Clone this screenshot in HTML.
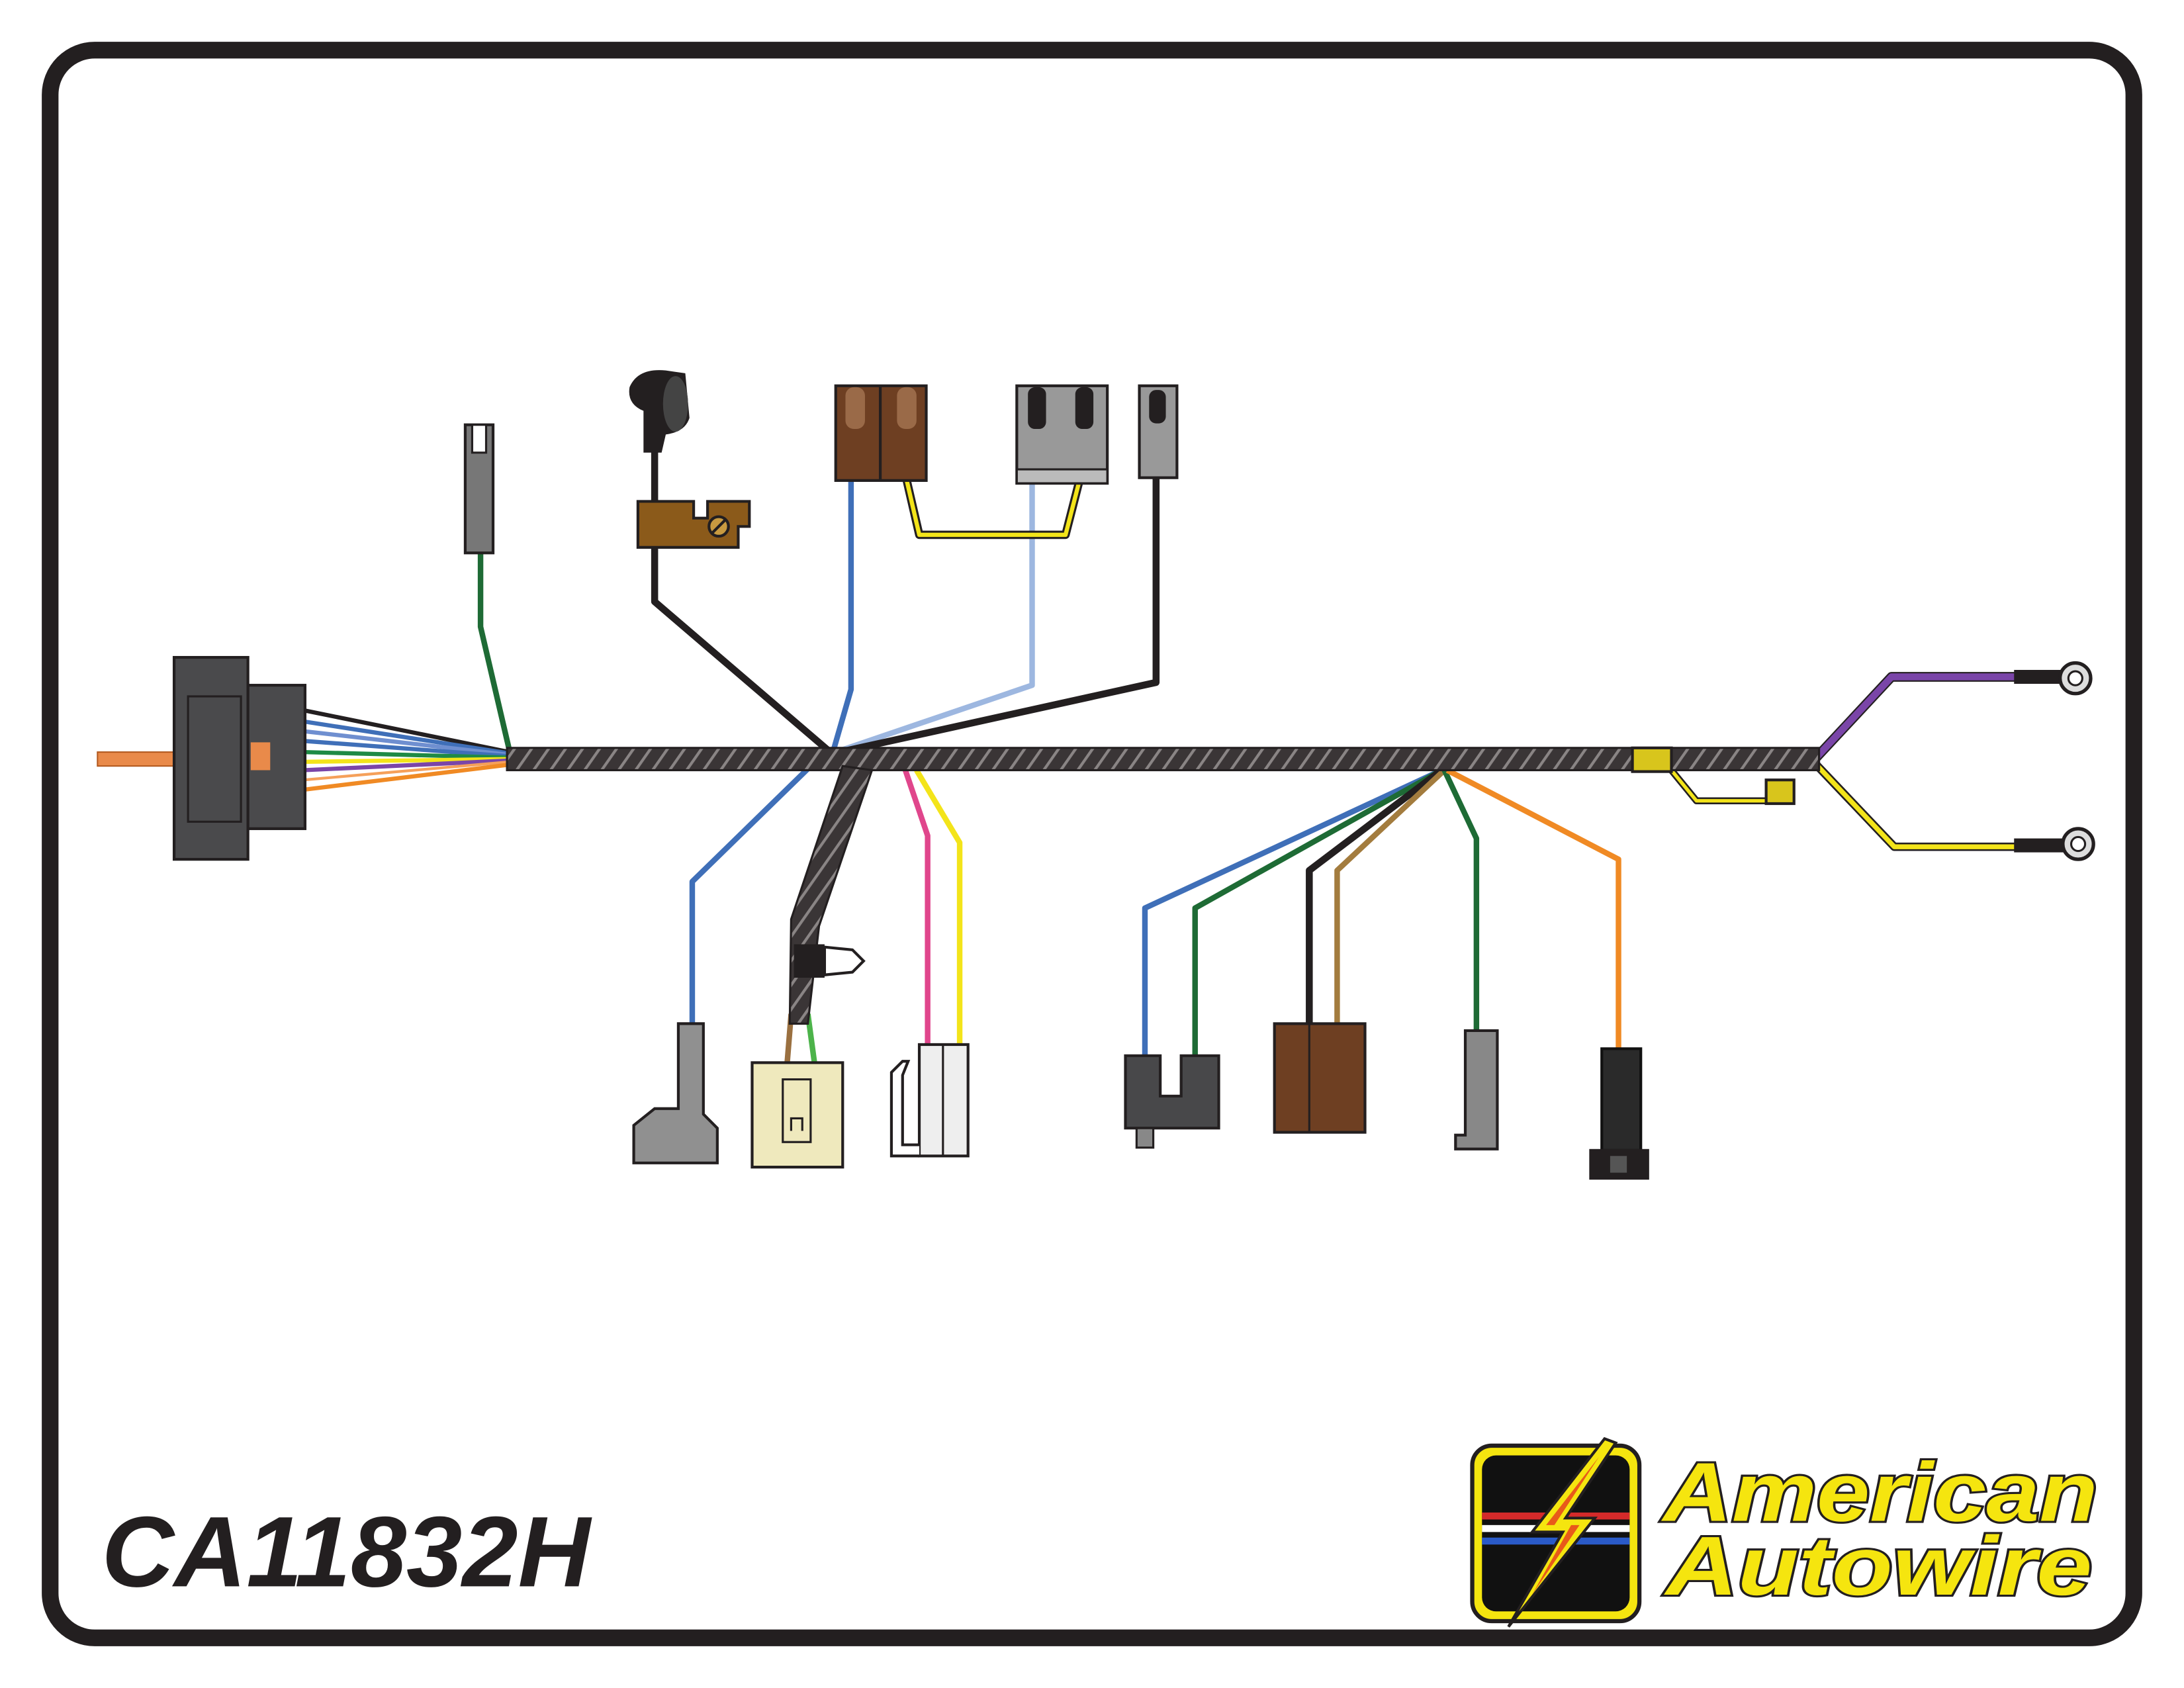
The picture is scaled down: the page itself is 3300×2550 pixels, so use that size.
<!DOCTYPE html>
<html><head><meta charset="utf-8"><style>html,body{margin:0;padding:0;background:#fff}svg{display:block}</style></head>
<body>
<svg width="3300" height="2550" viewBox="0 0 1568 1212" preserveAspectRatio="none" xmlns="http://www.w3.org/2000/svg">
<defs>
<pattern id="tw" width="10" height="20" patternUnits="userSpaceOnUse" patternTransform="rotate(35)">
<rect width="10" height="20" fill="#3a3536"/><rect width="2" height="20" fill="#8a8585"/>
</pattern>
</defs>
<rect x="0" y="0" width="1568" height="1212" fill="#fff"/>
<rect x="36" y="36" width="1496" height="1140" rx="32" fill="none" stroke="#231f20" stroke-width="12"/>

<g fill="none" stroke-linejoin="round" stroke-width="4">
<polyline points="366,540 345,450 345,395" stroke="#1e6b35"/>
<polyline points="596,540 470,432 470,390" stroke="#231f20" stroke-width="5"/>
<line x1="470" y1="318" x2="470" y2="362" stroke="#231f20" stroke-width="5"/>
<polyline points="598,540 611,495 611,345" stroke="#3f6fb8"/>
<polyline points="600,540 741,492 741,345" stroke="#9db7e0"/>
<polyline points="603,540 830,490 830,343" stroke="#231f20" stroke-width="5"/>
<polyline points="651,345 660,384 765,384 775,345" stroke="#231f20" stroke-width="6"/>
<polyline points="651,345 660,384 765,384 775,345" stroke="#f3e41a" stroke-width="3"/>
<polyline points="580,552 497,633 497,737" stroke="#3f6fb8"/>
<polyline points="650,553 666,600 666,752" stroke="#e0468c"/>
<polyline points="658,553 689,605 689,752" stroke="#f3e41a"/>
<polyline points="568,728 565,765" stroke="#9a7040"/>
<polyline points="580,728 585,765" stroke="#4cb34a"/>
<polyline points="1035,553 822,652 822,760" stroke="#3f6fb8"/>
<polyline points="1035,553 858,652 858,760" stroke="#1e6b35"/>
<polyline points="1035,553 940,625 940,737" stroke="#231f20" stroke-width="5"/>
<polyline points="1037,553 960,625 960,737" stroke="#a37c3e"/>
<polyline points="1037,553 1060,602 1060,742" stroke="#1e6b35"/>
<polyline points="1039,553 1162,617 1162,755" stroke="#f08a24"/>
<polyline points="1200,553 1218,575 1270,575" stroke="#231f20" stroke-width="5"/>
<polyline points="1200,553 1218,575 1270,575" stroke="#f3e41a" stroke-width="2.5"/>
<polyline points="1303,545 1358,486 1450,486" stroke="#231f20" stroke-width="7"/>
<polyline points="1303,545 1358,486 1450,486" stroke="#7a45a8" stroke-width="5"/>
<polyline points="1303,548 1360,608 1450,608" stroke="#231f20" stroke-width="6"/>
<polyline points="1303,548 1360,608 1450,608" stroke="#f3e41a" stroke-width="3.5"/>
<line x1="218" y1="510" x2="366" y2="540" stroke="#231f20" stroke-width="3"/>
<line x1="218" y1="518" x2="366" y2="541" stroke="#3f6fb8" stroke-width="3"/>
<line x1="218" y1="525" x2="366" y2="542" stroke="#6f8fd0" stroke-width="3"/>
<line x1="218" y1="532" x2="366" y2="543" stroke="#3f6fb8" stroke-width="3"/>
<line x1="218" y1="540" x2="366" y2="544" stroke="#1e8a45" stroke-width="3"/>
<line x1="218" y1="547" x2="366" y2="545" stroke="#f3e41a" stroke-width="3"/>
<line x1="218" y1="553" x2="366" y2="546" stroke="#7a45a8" stroke-width="3"/>
<line x1="218" y1="560" x2="366" y2="547" stroke="#f5a05a" stroke-width="2"/>
<line x1="218" y1="567" x2="366" y2="549" stroke="#f08a24" stroke-width="3"/>
</g>

<rect x="364" y="537" width="942" height="16" fill="url(#tw)" stroke="#231f20" stroke-width="1.5"/>
<polygon points="605,550 626,553 588,665 580,735 567,735 568,660" fill="url(#tw)" stroke="#231f20" stroke-width="1.5"/>
<rect x="1172" y="537" width="28" height="17" fill="#d8c51c" stroke="#231f20" stroke-width="2"/>
<rect x="1268" y="560" width="20" height="17" fill="#d8c51c" stroke="#231f20" stroke-width="2"/>
<rect x="1446" y="481" width="34" height="10" fill="#231f20"/>
<circle cx="1490" cy="487" r="11" fill="#ddd" stroke="#231f20" stroke-width="2.5"/><circle cx="1490" cy="487" r="5" fill="#fff" stroke="#231f20" stroke-width="1.5"/>
<rect x="1446" y="602" width="36" height="10" fill="#231f20"/>
<circle cx="1492" cy="606" r="11" fill="#ddd" stroke="#231f20" stroke-width="2.5"/><circle cx="1492" cy="606" r="5" fill="#fff" stroke="#231f20" stroke-width="1.5"/>

<rect x="70" y="540" width="56" height="10" fill="#e98a4a" stroke="#b35a20" stroke-width="1"/>
<rect x="125" y="472" width="53" height="145" fill="#4a4a4c" stroke="#231f20" stroke-width="2"/>
<rect x="178" y="492" width="41" height="103" fill="#4a4a4c" stroke="#231f20" stroke-width="2"/>
<rect x="135" y="500" width="38" height="90" fill="none" stroke="#231f20" stroke-width="1.5"/>
<rect x="180" y="533" width="14" height="20" fill="#e98a4a"/>

<rect x="334" y="305" width="20" height="92" fill="#777" stroke="#231f20" stroke-width="2"/>
<rect x="339" y="305" width="10" height="20" fill="#fff" stroke="#231f20" stroke-width="1.5"/>
<path d="M462,325 L462,295 Q450,290 452,278 Q458,264 478,266 L492,268 L495,300 Q492,310 478,312 L475,325 Z" fill="#231f20"/>
<ellipse cx="485" cy="290" rx="9" ry="20" fill="#444"/>
<path d="M458,360 L498,360 L498,372 L508,372 L508,360 L538,360 L538,378 L530,378 L530,393 L458,393 Z" fill="#8b5a1a" stroke="#231f20" stroke-width="2"/>
<circle cx="516" cy="378" r="7" fill="#c89a40" stroke="#231f20" stroke-width="2"/>
<line x1="511" y1="383" x2="521" y2="373" stroke="#231f20" stroke-width="2"/>
<rect x="600" y="277" width="65" height="68" fill="#6e3f22" stroke="#231f20" stroke-width="2"/>
<line x1="632" y1="277" x2="632" y2="345" stroke="#231f20" stroke-width="2"/>
<rect x="607" y="278" width="14" height="30" rx="6" fill="#9a6a48"/><rect x="644" y="278" width="14" height="30" rx="6" fill="#9a6a48"/>
<rect x="730" y="277" width="65" height="70" fill="#999" stroke="#231f20" stroke-width="2"/>
<rect x="730" y="337" width="65" height="10" fill="#bbb" stroke="#231f20" stroke-width="1.5"/>
<rect x="738" y="278" width="13" height="30" rx="5" fill="#231f20"/><rect x="772" y="278" width="13" height="30" rx="5" fill="#231f20"/>
<rect x="818" y="277" width="27" height="66" fill="#999" stroke="#231f20" stroke-width="2"/>
<rect x="825" y="280" width="12" height="24" rx="5" fill="#231f20"/>

<path d="M487,735 L505,735 L505,800 L515,810 L515,835 L455,835 L455,808 L470,796 L487,796 Z" fill="#909090" stroke="#231f20" stroke-width="2"/>
<rect x="570" y="678" width="22" height="24" fill="#231f20"/>
<path d="M592,680 L612,682 L620,690 L612,698 L592,700 Z" fill="#fff" stroke="#231f20" stroke-width="2"/>
<rect x="540" y="763" width="65" height="75" fill="#efe9bd" stroke="#231f20" stroke-width="2"/>
<rect x="562" y="775" width="20" height="45" fill="none" stroke="#231f20" stroke-width="1.5"/>
<path d="M568,812 L568,803 L576,803 L576,812" fill="none" stroke="#231f20" stroke-width="1.5"/>
<rect x="660" y="750" width="35" height="80" fill="#eee" stroke="#231f20" stroke-width="2"/>
<line x1="677" y1="750" x2="677" y2="830" stroke="#231f20" stroke-width="1.5"/>
<path d="M660,830 L640,830 L640,770 L648,762 L652,762 L648,772 L648,822 L660,822" fill="#fff" stroke="#231f20" stroke-width="2"/>
<path d="M808,758 L833,758 L833,787 L848,787 L848,758 L875,758 L875,810 L808,810 Z" fill="#48484a" stroke="#231f20" stroke-width="2"/>
<rect x="816" y="810" width="12" height="14" fill="#888" stroke="#231f20" stroke-width="1.5"/>
<rect x="915" y="735" width="65" height="78" fill="#6e3f22" stroke="#231f20" stroke-width="2"/>
<line x1="940" y1="735" x2="940" y2="813" stroke="#231f20" stroke-width="1.5"/>
<path d="M1052,740 L1075,740 L1075,825 L1045,825 L1045,815 L1052,815 Z" fill="#888" stroke="#231f20" stroke-width="2"/>
<rect x="1150" y="753" width="28" height="73" fill="#2a2a2a" stroke="#111" stroke-width="2"/>
<rect x="1141" y="825" width="43" height="22" fill="#231f20"/>
<rect x="1156" y="830" width="12" height="12" fill="#555"/>

<text x="73" y="1139" font-family="Liberation Sans, sans-serif" font-weight="bold" font-style="italic" font-size="72" fill="#231f20">CA11832H</text>

<rect x="1057" y="1038" width="120" height="126" rx="14" fill="#f5e50f" stroke="#231f20" stroke-width="3"/>
<rect x="1064" y="1045" width="106" height="112" rx="10" fill="#111"/>
<rect x="1064" y="1086" width="106" height="5" fill="#d42a2a"/>
<rect x="1064" y="1095" width="106" height="5" fill="#fff"/>
<rect x="1064" y="1104" width="106" height="5" fill="#2a5ac8"/>
<polygon points="1152,1033 1100,1100 1122,1100 1083,1168 1145,1090 1124,1090 1160,1036" fill="#f5e50f" stroke="#231f20" stroke-width="2"/>
<polygon points="1148,1046 1110,1095 1128,1095 1100,1145 1134,1095 1116,1095" fill="#e85a1a"/>
<g font-family="Liberation Sans, sans-serif" font-weight="bold" font-style="italic" font-size="60" fill="#f5e50f" stroke="#231f20" stroke-width="3" paint-order="stroke">
<text x="1194" y="1092" textLength="312" lengthAdjust="spacingAndGlyphs">American</text>
<text x="1196" y="1145" textLength="306" lengthAdjust="spacingAndGlyphs">Autowire</text>
</g>
</svg>
</body></html>
